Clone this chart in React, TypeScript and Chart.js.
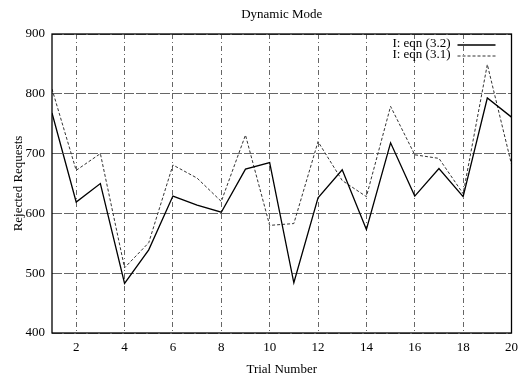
import React, { useEffect, useRef } from "react";
import { Chart, registerables } from "chart.js";

Chart.register(...registerables);

// Trial numbers and rejected request counts for the two equations
const trials = [1, 2, 3, 4, 5, 6, 7, 8, 9, 10, 11, 12, 13, 14, 15, 16, 17, 18, 19, 20];
const eqn32 = [768, 619, 650, 483, 539, 629, 614, 602, 674, 685, 484, 626, 673, 573, 718, 629, 675, 628, 793, 761];
const eqn31 = [808, 672, 700, 509, 551, 681, 659, 620, 731, 580, 583, 720, 655, 628, 779, 698, 692, 633, 849, 682];

const seriesLabels = ["I: eqn (3.2)", "I: eqn (3.1)"];
const xTickValues = [2, 4, 6, 8, 10, 12, 14, 16, 18, 20];
const yTickValues = [400, 500, 600, 700, 800, 900];

const chartTitle = "Dynamic Mode";
const xTitle = "Trial Number";
const yTitle = "Rejected Requests";

const FONT = "'Liberation Serif', 'Times New Roman', serif";

// Frame around the plot, centred title and a gnuplot-style key
const decorations = {
  id: "decorations",
  afterDatasetsDraw(chart: any) {
    const { ctx, chartArea: a } = chart;
    ctx.save();
    ctx.setLineDash([]);
    ctx.strokeStyle = "#000";
    ctx.lineWidth = 1.3;
    ctx.strokeRect(a.left, a.top, a.right - a.left, a.bottom - a.top);

    ctx.fillStyle = "#000";
    ctx.font = `13px ${FONT}`;
    ctx.textAlign = "center";
    ctx.textBaseline = "middle";
    ctx.fillText(chartTitle, (a.left + a.right) / 2, 15);

    chart.data.datasets.forEach((ds: any, i: number) => {
      const y = a.top + 10 + i * 11;
      ctx.textAlign = "right";
      ctx.fillText(ds.label, a.right - 61, y);
      ctx.beginPath();
      ctx.setLineDash(ds.borderDash || []);
      ctx.strokeStyle = ds.borderColor;
      ctx.lineWidth = ds.borderWidth;
      ctx.moveTo(a.right - 54, y + 1);
      ctx.lineTo(a.right - 16, y + 1);
      ctx.stroke();
    });
    ctx.restore();
  },
};

export default function App() {
  const canvasRef = useRef<HTMLCanvasElement | null>(null);

  useEffect(() => {
    if (!canvasRef.current) return;
    const chart = new Chart(canvasRef.current, {
      type: "line",
      data: {
        datasets: [
          {
            label: seriesLabels[0],
            data: trials.map((t, i) => ({ x: t, y: eqn32[i] })),
            borderColor: "#000",
            borderWidth: 1.3,
            pointRadius: 0,
            tension: 0,
          },
          {
            label: seriesLabels[1],
            data: trials.map((t, i) => ({ x: t, y: eqn31[i] })),
            borderColor: "#333",
            borderWidth: 1,
            borderDash: [3, 2],
            pointRadius: 0,
            tension: 0,
          },
        ],
      },
      plugins: [decorations],
      options: {
        responsive: false,
        animation: false,
        layout: { padding: { left: 0, right: 12, top: 34, bottom: 0 } },
        plugins: {
          legend: { display: false },
          title: { display: false },
          tooltip: { enabled: false },
        },
        scales: {
          x: {
            type: "linear",
            min: 1,
            max: 20,
            afterBuildTicks: (scale: any) => {
              scale.ticks = xTickValues.map((v) => ({ value: v }));
            },
            afterFit: (scale: any) => {
              scale.height = 49;
            },
            grid: { color: "#666", lineWidth: 1, drawTicks: false },
            border: { display: false, dash: [5, 3, 1, 3] },
            ticks: {
              color: "#000",
              padding: 7,
              maxRotation: 0,
              font: { family: FONT, size: 13 },
            },
            title: {
              display: true,
              text: xTitle,
              color: "#000",
              padding: { top: 0, bottom: 5 },
              font: { family: FONT, size: 13 },
            },
          },
          y: {
            type: "linear",
            min: 400,
            max: 900,
            afterBuildTicks: (scale: any) => {
              scale.ticks = yTickValues.map((v) => ({ value: v }));
            },
            afterFit: (scale: any) => {
              scale.width = 52;
            },
            grid: { color: "#666", lineWidth: 1, drawTicks: false },
            border: { display: false, dash: [10, 2] },
            ticks: {
              color: "#000",
              padding: 7,
              font: { family: FONT, size: 13 },
            },
            title: {
              display: true,
              text: yTitle,
              color: "#000",
              padding: { top: 11, bottom: 0 },
              font: { family: FONT, size: 13 },
            },
          },
        },
      },
    });
    return () => chart.destroy();
  }, []);

  return (
    <div style={{ position: "absolute", left: 0, top: 0, width: 525, height: 382, background: "#fff" }}>
      <canvas ref={canvasRef} width={525} height={382} />
    </div>
  );
}
